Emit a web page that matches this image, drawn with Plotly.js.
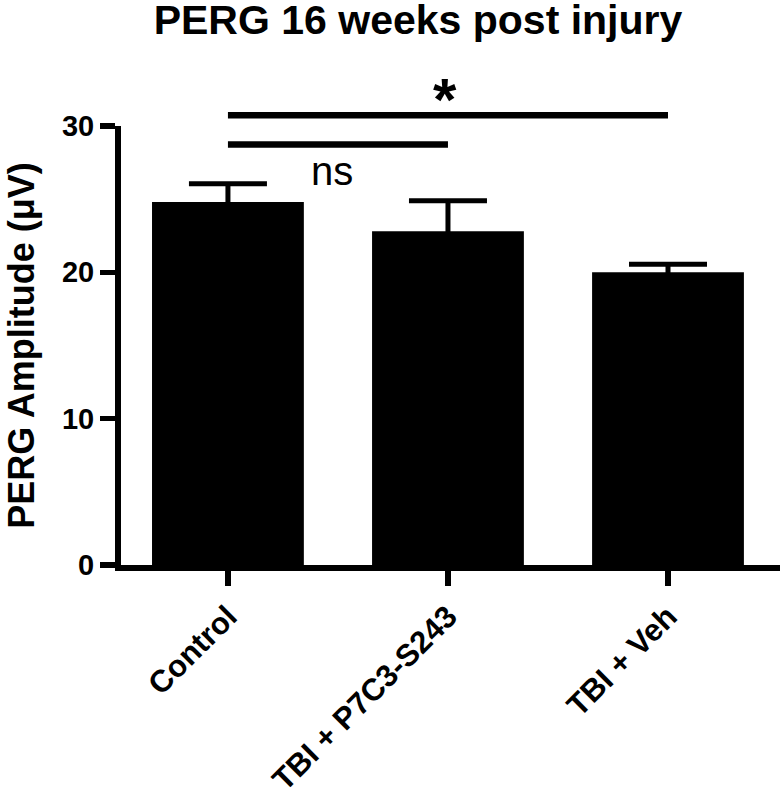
<!DOCTYPE html>
<html><head><meta charset="utf-8">
<script src="https://cdn.plot.ly/plotly-3.0.1.min.js"></script>
<style>html,body{margin:0;padding:0;background:#fff}</style>
</head><body><div id="chart" style="width:782px;height:792px"></div>
<script>
const categories = ['Control', 'TBI + P7C3-S243', 'TBI + Veh'];
const meanAmplitude = [24.8, 22.8, 20.0];
const semAmplitude = [1.25, 2.1, 0.55];
const yTickValues = [0, 10, 20, 30];
const yTickLabels = ['0', '10', '20', '30'];
const comparisonFrom = [0, 0];
const comparisonTo = [1, 2];
const comparisonLevel = [28.74, 30.74];
const comparisonLabel = ['ns', '*'];

const yRange = [0, 30];
const FONT = 'Liberation Sans, Arial, Helvetica, sans-serif';
const toPaper = v => (v - yRange[0]) / (yRange[1] - yRange[0]);

const trace = {
  type: 'bar',
  x: categories,
  y: meanAmplitude,
  marker: {color: '#000', line: {width: 0}},
  error_y: {type: 'data', array: semAmplitude, symmetric: true, color: '#000', thickness: 5, width: 39},
  hoverinfo: 'skip'
};

const shapes = comparisonFrom.map((f, i) => ({
  type: 'line', xref: 'x', yref: 'paper',
  x0: f, x1: comparisonTo[i],
  y0: toPaper(comparisonLevel[i]), y1: toPaper(comparisonLevel[i]),
  line: {color: '#000', width: 6.5}
}));

const annotations = comparisonFrom.map((f, i) => {
  const star = comparisonLabel[i] === '*';
  return {
    xref: 'x', yref: 'paper',
    x: (f + comparisonTo[i]) / 2,
    y: toPaper(comparisonLevel[i]),
    text: comparisonLabel[i],
    showarrow: false,
    xanchor: 'center', yanchor: 'middle',
    xshift: star ? -3 : -6,
    yshift: star ? 16 : -27,
    font: {family: FONT, size: star ? 60 : 40, color: '#000', weight: star ? 'bold' : 'normal'}
  };
});

const layout = {
  width: 782, height: 792,
  margin: {l: 121, r: 2, t: 125.5, b: 227, pad: 0},
  paper_bgcolor: '#fff', plot_bgcolor: '#fff',
  bargap: 0.31,
  showlegend: false,
  title: {
    text: 'PERG 16 weeks post injury',
    font: {family: FONT, size: 41, color: '#000', weight: 'bold'},
    x: 418 / 782, xref: 'container', xanchor: 'center',
    y: 1 - 5 / 792, yref: 'container', yanchor: 'top', pad: {t: 0}
  },
  xaxis: {
    type: 'category',
    range: [-0.486, 2.509],
    showline: true, linecolor: '#000', linewidth: 6,
    ticks: 'outside', ticklen: 15, tickwidth: 6, tickcolor: '#000',
    tickangle: -45,
    tickfont: {family: FONT, size: 31, color: '#000', weight: 'bold'},
    showgrid: false, zeroline: false, fixedrange: true
  },
  yaxis: {
    range: yRange,
    tickvals: yTickValues, ticktext: yTickLabels, tickmode: 'array',
    showline: true, linecolor: '#000', linewidth: 6,
    ticks: 'outside', ticklen: 15, tickwidth: 5.5, tickcolor: '#000',
    tickfont: {family: FONT, size: 29, color: '#000', weight: 'bold'},
    showgrid: false, zeroline: false, fixedrange: true,
    title: {text: 'PERG Amplitude (μV)', standoff: 18,
            font: {family: FONT, size: 36, color: '#000', weight: 'bold'}}
  },
  shapes: shapes,
  annotations: annotations
};

Plotly.newPlot('chart', [trace], layout, {displayModeBar: false, staticPlot: true});
</script></body></html>
